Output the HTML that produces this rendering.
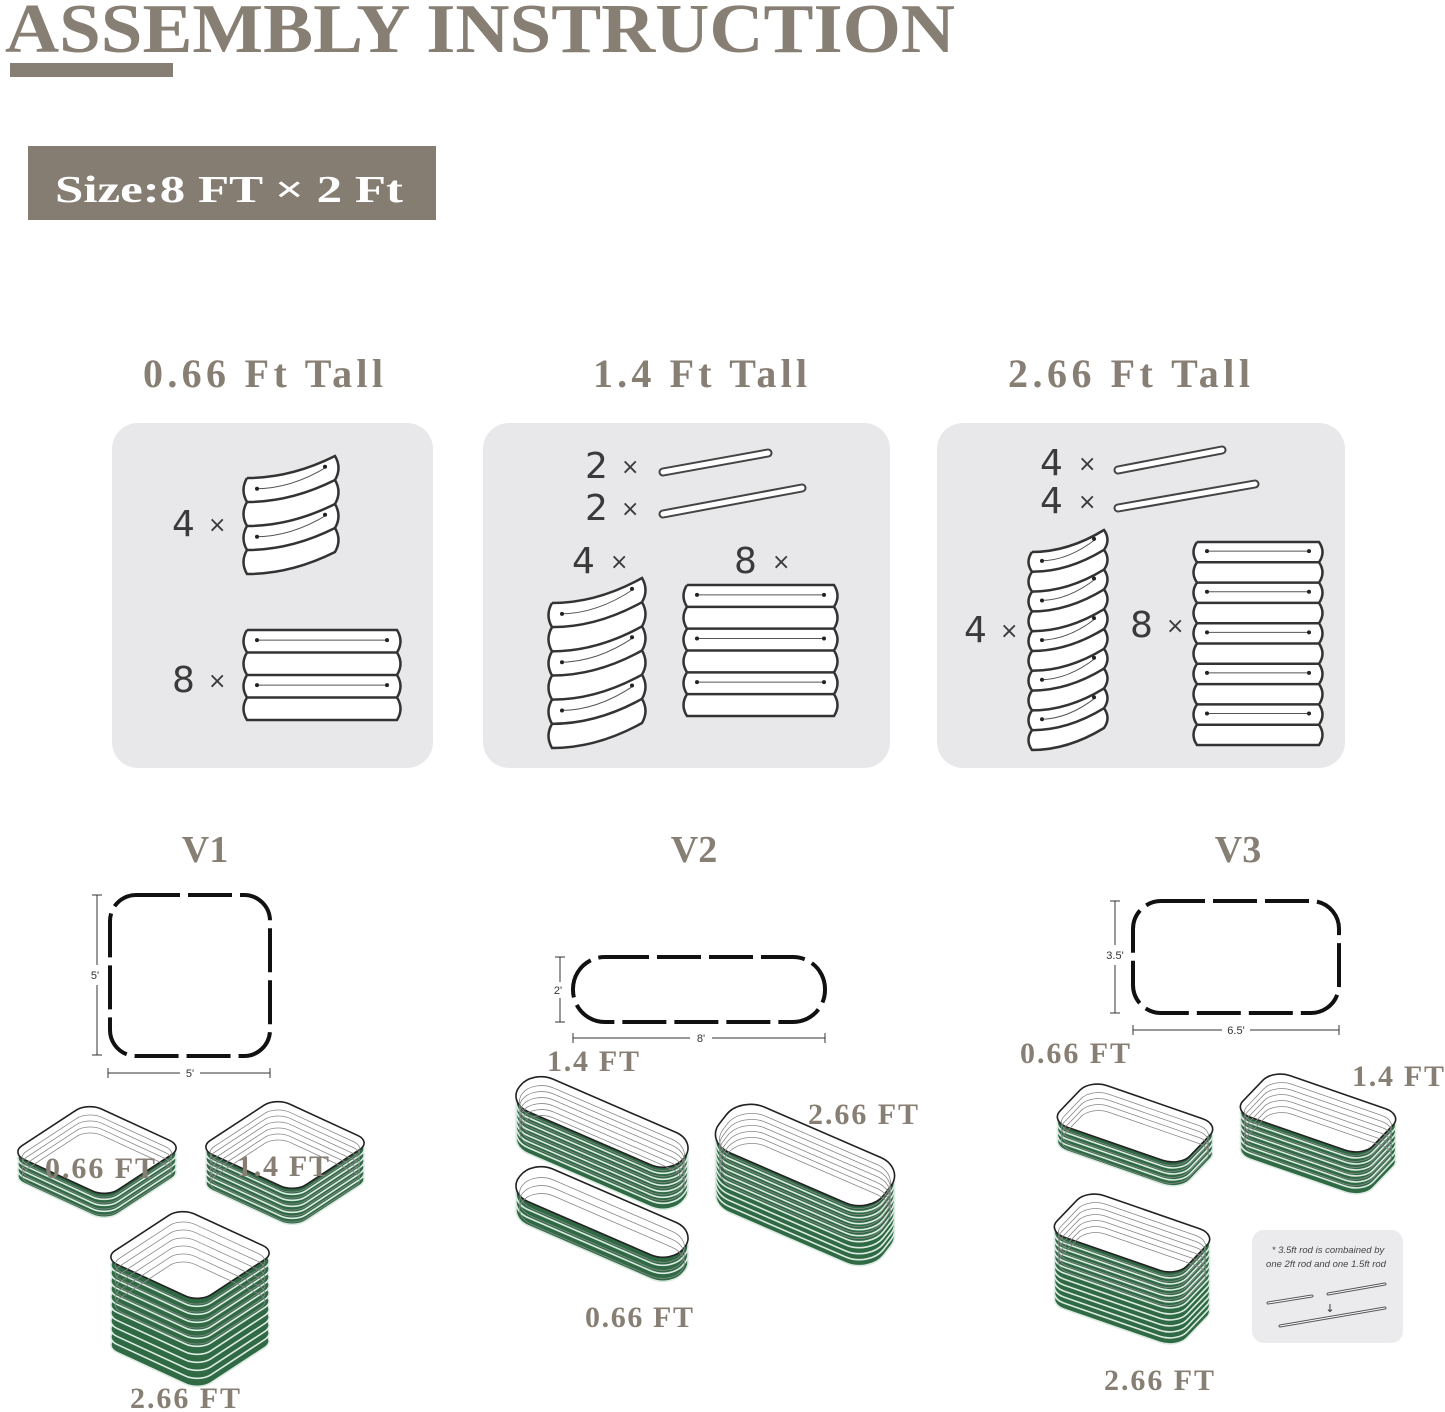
<!DOCTYPE html>
<html><head><meta charset="utf-8"><style>
html,body{margin:0;padding:0;background:#fff;}
svg{display:block}
.t{font-family:"Liberation Serif",serif;font-weight:bold;fill:#877e74}
.n{font-family:"DejaVu Sans","Liberation Sans",sans-serif;fill:#3a3a3a}
.d{font-family:"Liberation Sans",sans-serif;font-size:11px;fill:#333}
</style></head><body>
<svg id="s" width="1445" height="1412" viewBox="0 0 1445 1412" xmlns="http://www.w3.org/2000/svg">
<text class="t" x="5" y="52" font-size="70" textLength="950" lengthAdjust="spacingAndGlyphs">ASSEMBLY INSTRUCTION</text>
<rect x="10" y="63" width="163" height="14" fill="#877e74"/>
<rect x="28" y="146" width="408" height="74" fill="#857c72"/>
<text class="t" x="55" y="202" font-size="38" style="fill:#fff" textLength="348" lengthAdjust="spacingAndGlyphs">Size:8 FT × 2 Ft</text>

<text class="t" x="143" y="387" font-size="40" textLength="240" lengthAdjust="spacing">0.66 Ft Tall</text>
<text class="t" x="593" y="387" font-size="40" textLength="214" lengthAdjust="spacing">1.4 Ft Tall</text>
<text class="t" x="1008" y="387" font-size="40" textLength="242" lengthAdjust="spacing">2.66 Ft Tall</text>

<rect x="112" y="423" width="321" height="345" rx="26" fill="#e8e8ea"/>
<rect x="483" y="423" width="407" height="345" rx="26" fill="#e8e8ea"/>
<rect x="937" y="423" width="408" height="345" rx="26" fill="#e8e8ea"/>

<text class="n" x="172" y="536" font-size="36">4</text><text class="n" x="208" y="532" font-size="22">×</text>
<text class="n" x="172" y="692" font-size="36">8</text><text class="n" x="208" y="688" font-size="22">×</text>
<text class="n" x="585" y="478" font-size="36">2</text><text class="n" x="621" y="474" font-size="22">×</text>
<text class="n" x="585" y="520" font-size="36">2</text><text class="n" x="621" y="516" font-size="22">×</text>
<text class="n" x="572" y="573" font-size="36">4</text><text class="n" x="610" y="569" font-size="22">×</text>
<text class="n" x="734" y="573" font-size="36">8</text><text class="n" x="772" y="569" font-size="22">×</text>
<text class="n" x="1040" y="475" font-size="36">4</text><text class="n" x="1078" y="471" font-size="22">×</text>
<text class="n" x="1040" y="513" font-size="36">4</text><text class="n" x="1078" y="509" font-size="22">×</text>
<text class="n" x="964" y="642" font-size="36">4</text><text class="n" x="1000" y="638" font-size="22">×</text>
<text class="n" x="1130" y="637" font-size="36">8</text><text class="n" x="1166" y="633" font-size="22">×</text>

<g id="panels"></g>

<text class="t" x="205" y="862" font-size="38" text-anchor="middle">V1</text>
<text class="t" x="694" y="862" font-size="38" text-anchor="middle">V2</text>
<text class="t" x="1238" y="862" font-size="38" text-anchor="middle">V3</text>

<g fill="none" stroke="#111" stroke-width="4" stroke-dasharray="44,8">
<rect x="110" y="895" width="160" height="161" rx="26"/>
<rect x="573" y="957" width="252" height="65" rx="32"/>
<rect x="1133" y="901" width="206" height="112" rx="28"/>
</g>
<g stroke="#333" stroke-width="1">
<line x1="97" y1="895" x2="97" y2="965"/><line x1="97" y1="985" x2="97" y2="1055"/><line x1="92" y1="895" x2="102" y2="895"/><line x1="92" y1="1055" x2="102" y2="1055"/>
<line x1="108" y1="1073" x2="180" y2="1073"/><line x1="200" y1="1073" x2="270" y2="1073"/><line x1="108" y1="1068" x2="108" y2="1078"/><line x1="270" y1="1068" x2="270" y2="1078"/>
<line x1="560" y1="957" x2="560" y2="982"/><line x1="560" y1="998" x2="560" y2="1022"/><line x1="555" y1="957" x2="565" y2="957"/><line x1="555" y1="1022" x2="565" y2="1022"/>
<line x1="573" y1="1038" x2="690" y2="1038"/><line x1="712" y1="1038" x2="825" y2="1038"/><line x1="573" y1="1033" x2="573" y2="1043"/><line x1="825" y1="1033" x2="825" y2="1043"/>
<line x1="1115" y1="901" x2="1115" y2="945"/><line x1="1115" y1="965" x2="1115" y2="1013"/><line x1="1110" y1="901" x2="1120" y2="901"/><line x1="1110" y1="1013" x2="1120" y2="1013"/>
<line x1="1133" y1="1030" x2="1222" y2="1030"/><line x1="1250" y1="1030" x2="1339" y2="1030"/><line x1="1133" y1="1025" x2="1133" y2="1035"/><line x1="1339" y1="1025" x2="1339" y2="1035"/>
</g>
<text class="d" x="95" y="979" text-anchor="middle">5'</text>
<text class="d" x="190" y="1077" text-anchor="middle">5'</text>
<text class="d" x="558" y="994" text-anchor="middle">2'</text>
<text class="d" x="701" y="1042" text-anchor="middle">8'</text>
<text class="d" x="1115" y="959" text-anchor="middle">3.5'</text>
<text class="d" x="1236" y="1034" text-anchor="middle">6.5'</text>

<g id="boxes"></g>

<rect x="1252" y="1230" width="151" height="113" rx="12" fill="#ebebed"/>
<text x="1328" y="1253" font-size="9.5" font-style="italic" text-anchor="middle" font-family="Liberation Sans,sans-serif" fill="#444">* 3.5ft rod is combained by</text>
<text x="1326" y="1267" font-size="9.5" font-style="italic" text-anchor="middle" font-family="Liberation Sans,sans-serif" fill="#444">one 2ft rod and one 1.5ft rod</text>
<g stroke="#555" stroke-width="3" stroke-linecap="round" fill="none"><line x1="1268" y1="1303" x2="1312" y2="1296"/><line x1="1328" y1="1294" x2="1385" y2="1284"/><line x1="1280" y1="1326" x2="1385" y2="1308"/></g>
<g stroke="#fff" stroke-width="1" stroke-linecap="round"><line x1="1268" y1="1303" x2="1312" y2="1296"/><line x1="1328" y1="1294" x2="1385" y2="1284"/><line x1="1280" y1="1326" x2="1385" y2="1308"/></g>
<text x="1330" y="1312" font-size="11" text-anchor="middle" fill="#333" font-family="DejaVu Sans,sans-serif">↓</text>

<text class="t" x="45" y="1178" font-size="30" textLength="110" lengthAdjust="spacing">0.66 FT</text>
<text class="t" x="237" y="1176" font-size="30" textLength="92" lengthAdjust="spacing">1.4 FT</text>
<text class="t" x="130" y="1408" font-size="30" textLength="110" lengthAdjust="spacing">2.66 FT</text>
<text class="t" x="547" y="1071" font-size="30" textLength="92" lengthAdjust="spacing">1.4 FT</text>
<text class="t" x="808" y="1124" font-size="30" textLength="110" lengthAdjust="spacing">2.66 FT</text>
<text class="t" x="585" y="1327" font-size="30" textLength="108" lengthAdjust="spacing">0.66 FT</text>
<text class="t" x="1020" y="1063" font-size="30" textLength="110" lengthAdjust="spacing">0.66 FT</text>
<text class="t" x="1352" y="1086" font-size="30" textLength="92" lengthAdjust="spacing">1.4 FT</text>
<text class="t" x="1104" y="1390" font-size="30" textLength="110" lengthAdjust="spacing">2.66 FT</text>
</svg>
<script>
var NS="http://www.w3.org/2000/svg";
function el(p,tag,a){var e=document.createElementNS(NS,tag);for(var k in a)e.setAttribute(k,a[k]);p.appendChild(e);return e;}
var P=document.getElementById('panels');
function rod(x1,y1,x2,y2){el(P,'line',{x1:x1,y1:y1,x2:x2,y2:y2,stroke:'#444','stroke-width':9,'stroke-linecap':'round'});el(P,'line',{x1:x1,y1:y1,x2:x2,y2:y2,stroke:'#fff','stroke-width':5,'stroke-linecap':'round'});}
rod(663,472,768,453);rod(663,514,802,488);rod(1118,470,1222,450);rod(1118,508,1255,484);
function panel(x,y,w,h,n,c){
 var bh=h/n;function Y(i,t){return y+i*bh - c*t*t;}
 var d='M'+x+','+Y(0,0)+' Q'+(x+w*.5)+','+Y(0,0)+' '+(x+w)+','+Y(0,1);
 for(var i=0;i<n;i++){d+=' Q'+(x+w+7)+','+(Y(i,1)+bh/2)+' '+(x+w)+','+Y(i+1,1);}
 d+=' Q'+(x+w*.5)+','+Y(n,0)+' '+x+','+Y(n,0);
 for(var i=n;i>0;i--){d+=' Q'+(x-7)+','+(Y(i,0)-bh/2)+' '+x+','+Y(i-1,0);}
 el(P,'path',{d:d,fill:'#fff',stroke:'#333','stroke-width':2.5});
 for(var i=1;i<n;i++){el(P,'path',{d:'M'+x+','+Y(i,0)+' Q'+(x+w*.5)+','+Y(i,0)+' '+(x+w)+','+Y(i,1),fill:'none',stroke:'#333','stroke-width':2.5});}
 for(var i=0;i<n;i+=2){var yy=bh*0.45;el(P,'path',{d:'M'+(x+8)+','+(Y(i,0)+yy)+' Q'+(x+w*.5)+','+(Y(i,0)+yy)+' '+(x+w-8)+','+(Y(i,1)+yy),fill:'none',stroke:'#555','stroke-width':1});
  el(P,'circle',{cx:x+10,cy:Y(i,0)+yy,r:2,fill:'#222'});el(P,'circle',{cx:x+w-10,cy:Y(i,1)+yy,r:2,fill:'#222'});}
}
panel(247,478,88,96,4,22);
panel(247,630,150,90,4,0);
panel(552,603,90,145,6,25);
panel(687,585,147,131,6,0);
panel(1032,552,72,198,10,22);
panel(1197,542,122,203,10,0);

var B=document.getElementById('boxes');
function box(cx,cy,w,d,rot,sy,L,st,r){
 function shape(dy,a){var g=el(B,'g',{transform:'translate('+cx+','+(cy+dy)+') scale(1,'+sy+') rotate('+rot+')'});a.x=-w/2;a.y=-d/2;a.width=w;a.height=d;a.rx=r;a.ry=r;a['vector-effect']='non-scaling-stroke';el(g,'rect',a);return g;}
 for(var k=L;k>=1;k--)shape(k*st,{fill:'#2f6a45',stroke:'#dcebe1','stroke-width':1.6});
 shape(0,{fill:'#fff',stroke:'#222','stroke-width':1.6});
 var m=Math.min(L,6);
 for(var k=1;k<=m;k++){var g=el(B,'g',{transform:'translate('+cx+','+(cy+k*st)+') scale(1,'+sy+') rotate('+rot+')'});el(g,'rect',{x:-w/2+3,y:-d/2+3,width:w-6,height:d-6,rx:r,ry:r,fill:'none',stroke:'#888','stroke-width':0.8,'vector-effect':'non-scaling-stroke'});}
}
box(97,1150,125,120,40,0.55,4,6,18);
box(285,1145,125,120,40,0.55,6,6,18);
box(190,1255,125,120,40,0.55,11,8,18);
box(602,1122,190,50,30,0.75,7,6,24);
box(602,1212,190,50,30,0.75,3,8,24);
box(805,1155,190,70,30,0.75,10,6,28);
box(1135,1123,150,80,30,0.6,4,6,20);
box(1318,1113,150,80,30,0.6,7,6,20);
box(1132,1233,150,80,30,0.6,12,6,20);
</script>
</body></html>
